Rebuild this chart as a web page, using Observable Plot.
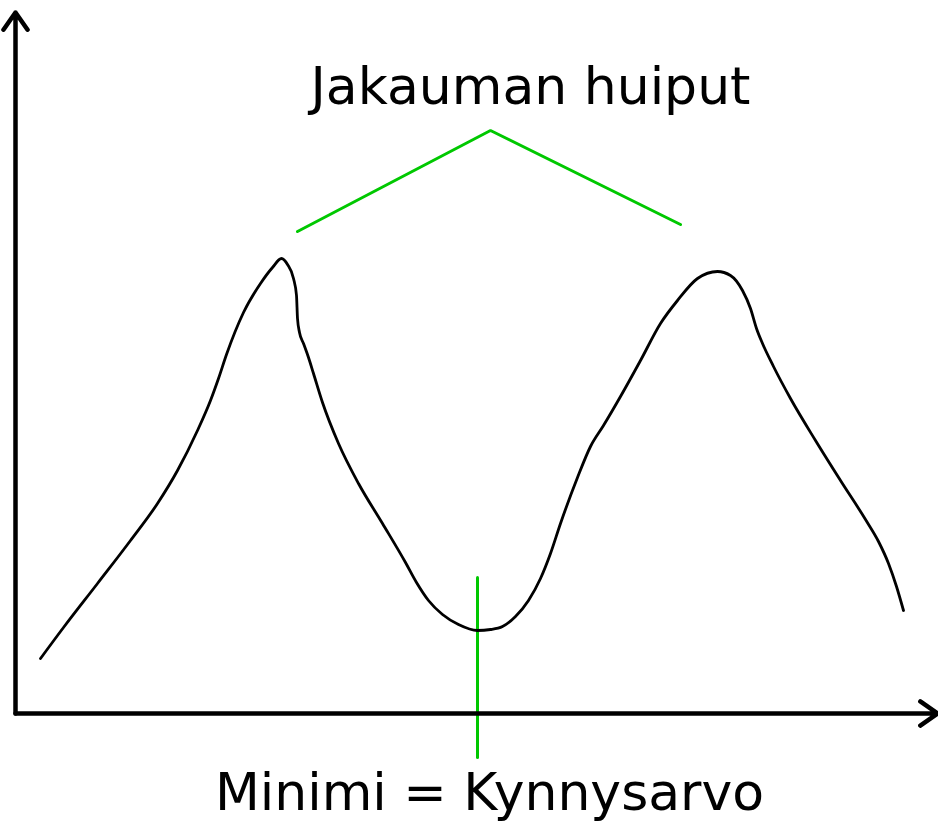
<!DOCTYPE html>
<html>
<head>
<meta charset="utf-8">
<script src="https://cdn.jsdelivr.net/npm/d3@7"></script>
<script src="https://cdn.jsdelivr.net/npm/@observablehq/plot@0.6"></script>
<style>
  html, body { margin: 0; padding: 0; background: #ffffff; }
  #chart svg { display: block; }
</style>
</head>
<body>
<div id="chart"></div>
<script>
// Bimodal histogram sketch: the two peaks of the distribution and the
// minimum between them, used as the threshold value.
const curveX = [25, 48, 82, 115, 142, 162, 182, 195, 203, 211, 228, 245, 257, 266, 272, 278, 281, 282, 284, 288,
  293, 298, 307, 323, 343, 367, 390, 401, 413, 427, 443, 462, 475, 487, 500, 513, 525, 535, 545, 562,
  575, 588, 605, 625, 645, 662, 682, 702, 715, 727, 735, 741, 747, 758, 775, 800, 825, 850, 863, 873, 881, 888];
const curveY = [55, 86, 130, 173, 210, 243, 283, 313, 335, 359, 401, 430, 446, 455, 449, 435, 418, 395, 381, 370,
  356, 340, 311, 270, 230, 190, 151, 131, 113, 99, 89, 83, 84, 87, 97, 113, 135, 160, 190, 236,
  267, 288, 317, 353, 390, 413, 435, 442, 438, 423, 405, 385, 370, 347, 315, 273, 233, 194, 172, 150, 127, 103];

// Pointer lines: a chevron to both peaks and a vertical marker at the minimum
const peakPointerX = [282, 475, 665];
const peakPointerY = [482, 583, 489];
const minimumX = [462, 462];
const minimumY = [136, -44];

// Axis extents
const axisX = [0, 922];
const axisY = [0, 701];

// Labels
const labelText = ["Jakauman huiput", "Minimi = Kynnysarvo"];
const labelX = [515, 474];
const labelY = [610, -96];

const curve = curveX.map((x, i) => ({x, y: curveY[i]}));
const peaks = peakPointerX.map((x, i) => ({x, y: peakPointerY[i]}));
const minimum = minimumX.map((x, i) => ({x, y: minimumY[i]}));
const labels = labelText.map((t, i) => ({t, x: labelX[i], y: labelY[i]}));
const axes = [
  {x1: axisX[0], y1: axisY[0], x2: axisX[1], y2: axisY[0]},
  {x1: axisX[0], y1: axisY[0], x2: axisX[0], y2: axisY[1]}
];

const chart = Plot.plot({
  width: 938,
  height: 822,
  margin: 0,
  style: {background: "#ffffff", overflow: "visible"},
  x: {domain: [0, 923], range: [15, 938], axis: null},
  y: {domain: [0, 703], range: [713, 10], axis: null},
  marks: [
    Plot.line(peaks, {x: "x", y: "y", stroke: "#00c800", strokeWidth: 3, strokeLinejoin: "miter"}),
    Plot.line(minimum, {x: "x", y: "y", stroke: "#00c800", strokeWidth: 3}),
    Plot.line(curve, {x: "x", y: "y", stroke: "#000000", strokeWidth: 2.8, curve: "monotone-x"}),
    Plot.arrow(axes, {x1: "x1", y1: "y1", x2: "x2", y2: "y2", stroke: "#000000", strokeWidth: 4.5,
      headLength: 7, headAngle: 70}),
    Plot.text(labels, {x: "x", y: "y", text: "t", fontSize: 52, fill: "#000000",
      fontFamily: "DejaVu Sans", textAnchor: "middle", lineAnchor: "bottom"})
  ]
});

document.getElementById("chart").append(chart);
</script>
</body>
</html>
